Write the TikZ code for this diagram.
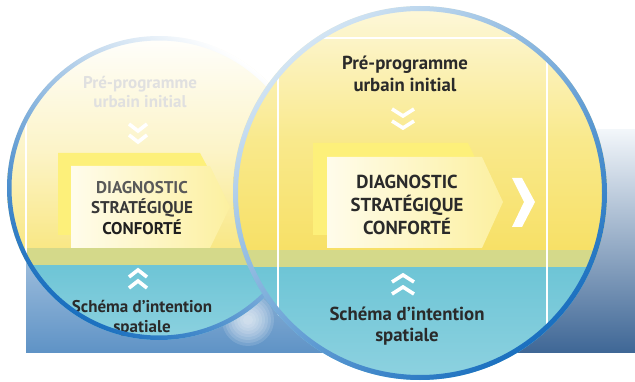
\documentclass[tikz,border=0pt]{standalone}
\usepackage{fontspec}
\setmainfont{PT Sans}
\definecolor{txt}{HTML}{2A2A2A}
\definecolor{ytop}{HTML}{FCF4C8}
\definecolor{ymid}{HTML}{F9E98C}
\definecolor{ybot}{HTML}{F7E066}
\definecolor{band}{HTML}{D4D98A}
\definecolor{cyantop}{HTML}{6EC5D6}
\definecolor{cyanbot}{HTML}{8ED2E0}
\definecolor{boxback}{HTML}{FDF07A}
\definecolor{boxfl}{HTML}{FFFCEB}
\definecolor{boxfr}{HTML}{FCF0A0}
\definecolor{ringdark}{HTML}{1A6FBF}
\definecolor{ringlight}{HTML}{B5D3EC}
\definecolor{bgtop}{HTML}{F2F6FA}
\definecolor{bgmid}{HTML}{A9BFD8}
\definecolor{bgbot}{HTML}{3F6796}
\definecolor{bgleft}{HTML}{5F93C6}
\tikzset{
  lbl/.style={font=\bfseries, text=txt, align=center, inner sep=0pt},
  chev/.style={draw=white, line width=3.6pt, line join=miter},
  frame/.style={draw=white, line width=2.4pt},
  backbox/.style={fill=boxback},
  frontbox/.style={left color=boxfl, right color=boxfr},
}
\begin{document}
\begin{tikzpicture}[x=1pt,y=-1pt]
\useasboundingbox (0,0) rectangle (635,382);
% background band
\shade[top color=bgtop, middle color=bgleft!55!white, bottom color=bgleft] (26,130) rectangle (331,352);
\shade[top color=bgtop, middle color=bgmid, bottom color=bgbot] (330,130) rectangle (635,352);
\foreach \r in {26,23,...,5} {
  \fill[white, opacity=0.13] (248,320) circle (\r);
}

% ===== left (faded) circle =====
\begin{scope}
\clip (159,188) circle (152);
\shade[top color=white, bottom color=ytop] (0,30) rectangle (320,150);
\shade[top color=ytop, bottom color=ymid!80!ybot] (0,150) rectangle (320,249);
\fill[band] (0,248) rectangle (320,266);
\shade[top color=cyantop, bottom color=cyanbot] (0,266) rectangle (320,345);
\draw[frame] (26,90) -- (26,320);
\fill[backbox] (58,153) -- (200,153) -- (222,194) -- (200,235) -- (58,235) -- cycle;
\shade[frontbox] (71,166) -- (210,166) -- (230,207) -- (210,248) -- (71,248) -- cycle;
\node[lbl, text=black!12, font=\bfseries\fontsize{17}{19.5}\selectfont] (lpre) at (140,92) {Pré-programme\\urbain initial};
\draw[chev] (129,124) -- (138,131) -- (147,124);
\draw[chev] (129,135) -- (138,142) -- (147,135);
\node[lbl, font=\bfseries\fontsize{17}{20.5}\selectfont] (ldiag) at (142,208)
  {\textcolor{black!65}{DIAGNOSTIC}\\\textcolor{black!78}{STRATÉGIQUE}\\\textcolor{black!88}{CONFORTÉ}};
\draw[chev] (129,277) -- (138,270) -- (147,277);
\draw[chev] (129,288) -- (138,281) -- (147,288);
\node[lbl, font=\bfseries\fontsize{17}{19.5}\selectfont] (lsch) at (142,318) {Schéma d’intention\\spatiale};
\end{scope}
\shade[even odd rule, top color=white, middle color=ringlight, bottom color=ringdark, shading angle=-35]
  (159,188) circle (152) (159,188) circle (147.5);

% ===== big circle =====
\begin{scope}
\clip (420,193) circle (187);
\shade[top color=ytop!60!white, bottom color=ymid] (220,0) rectangle (620,140);
\shade[top color=ymid, bottom color=ybot] (220,140) rectangle (620,251);
\fill[band] (220,250) rectangle (620,268);
\shade[top color=cyantop, bottom color=cyanbot] (220,268) rectangle (620,382);
\draw[frame] (278,330) -- (278,38) -- (547,38) -- (547,330);
\fill[backbox] (313,143) -- (468,143) -- (490,189) -- (468,235) -- (313,235) -- cycle;
\shade[frontbox] (327,157) -- (482,157) -- (503,202) -- (482,248) -- (327,248) -- cycle;
\node[lbl, font=\bfseries\fontsize{18.8}{22}\selectfont] (pre) at (405,74) {Pré-programme\\urbain initial};
\draw[chev] (392,109) -- (403,116) -- (414,109);
\draw[chev] (392,121) -- (403,128) -- (414,121);
\node[lbl, font=\bfseries\fontsize{18.8}{23}\selectfont] (diag) at (407,205) {DIAGNOSTIC\\STRATÉGIQUE\\CONFORTÉ};
\fill[white] (512,178) -- (522,178) -- (535,202) -- (522,227) -- (512,227) -- (524,202) -- cycle;
\draw[chev] (392,282) -- (403,275) -- (414,282);
\draw[chev] (392,294) -- (403,287) -- (414,294);
\node[lbl, font=\bfseries\fontsize{18.8}{21}\selectfont] (sch) at (407,326) {Schéma d’intention\\spatiale};
\end{scope}
\shade[even odd rule, top color=ringlight!60!white, bottom color=ringdark, shading angle=40]
  (420,193) circle (187) (420,193) circle (182);
\end{tikzpicture}
\end{document}
